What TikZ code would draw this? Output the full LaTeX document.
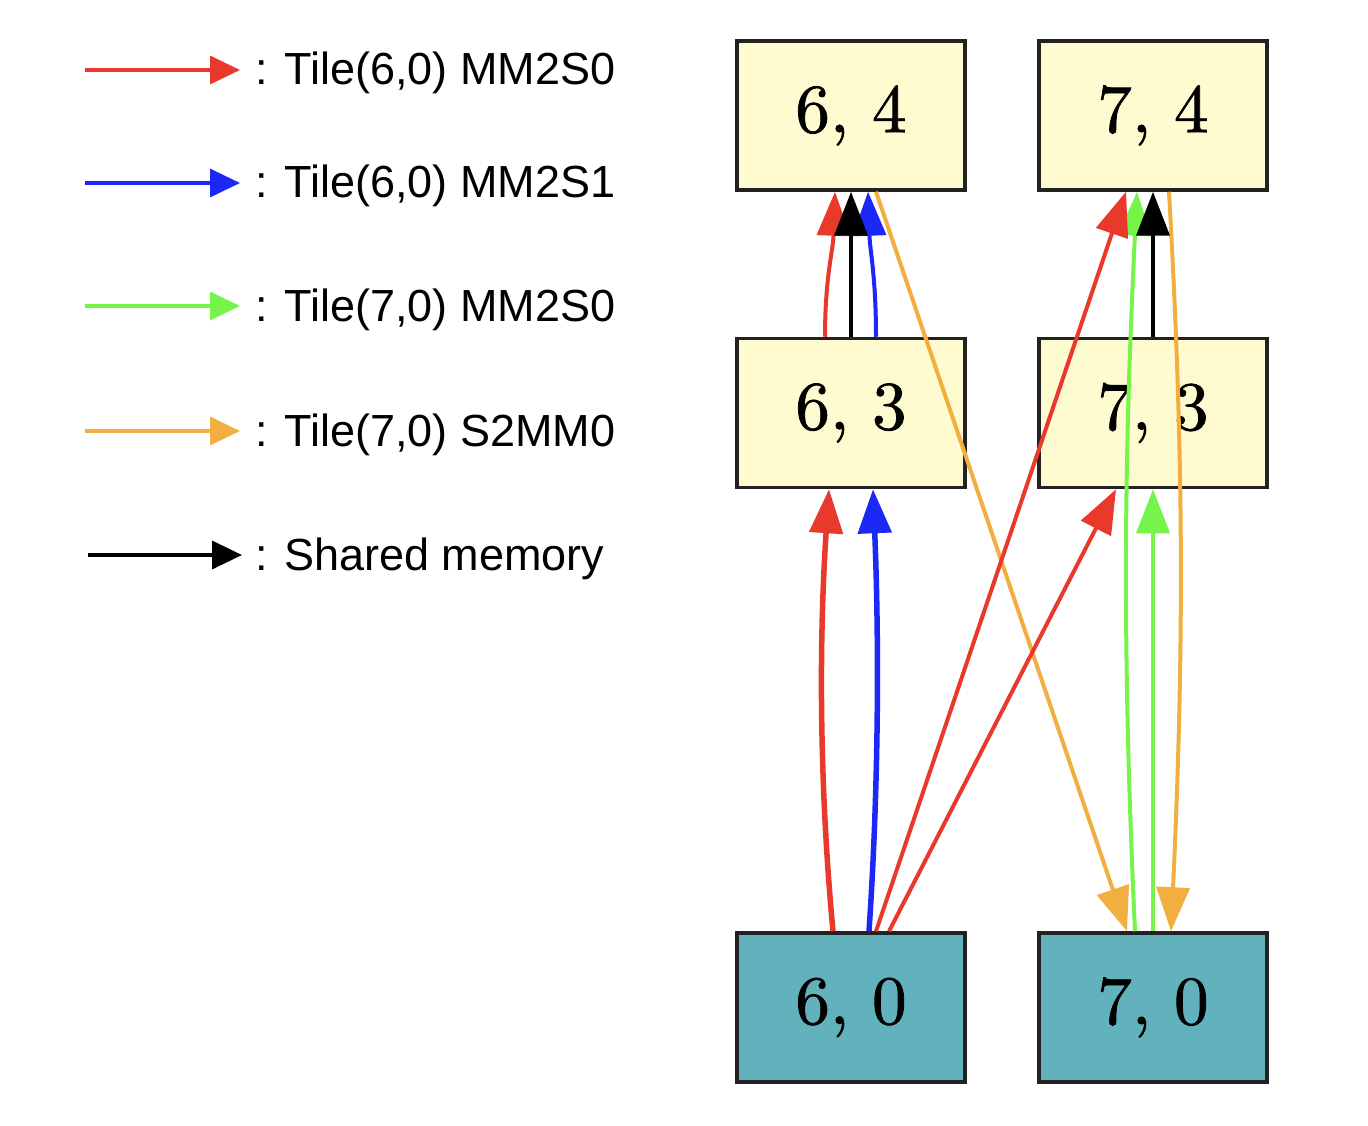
\documentclass[tikz,border=0pt]{standalone}
\usepackage{fontspec}
\newfontfamily\legfont{Liberation Sans}
\newfontfamily\tilefont{lmroman10-regular.otf}[FakeBold=1.1]
\usetikzlibrary{arrows.meta}
\definecolor{cred}{HTML}{E8392C}
\definecolor{cblue}{HTML}{1C28F5}
\definecolor{cgreen}{HTML}{76F44C}
\definecolor{corange}{HTML}{F2AE3E}
\definecolor{cyel}{HTML}{FFFBD1}
\definecolor{cteal}{HTML}{62B2BE}
\definecolor{cbord}{HTML}{222222}
\tikzset{
  tile/.style={draw=cbord, line width=3.5pt, minimum width=228pt, minimum height=149pt,
    inner sep=0pt, fill=cyel, font=\tilefont\fontsize{69}{80}\selectfont},
  shimtile/.style={tile, fill=cteal},
  edge/.style={line width=4pt, -{Triangle[length=44pt,width=33pt]}},
  thickedge/.style={line width=5.5pt, -{Triangle[length=44pt,width=33pt]}},
  legarrow/.style={line width=3.5pt, -{Triangle[length=30pt,width=28pt]}},
  legtext/.style={anchor=base west, inner sep=0pt, font=\legfont\fontsize{45}{54}\selectfont}
}
\begin{document}
\begin{tikzpicture}[x=1pt,y=-1pt]
\useasboundingbox (0,0) rectangle (1368,1126);
\fill[white] (0,0) rectangle (1368,1126);

% legend
\coordinate (l1s) at (85,70);   \coordinate (l1e) at (240,70);
\coordinate (l2s) at (85,183);  \coordinate (l2e) at (240,183);
\coordinate (l3s) at (85,306);  \coordinate (l3e) at (240,306);
\coordinate (l4s) at (85,431);  \coordinate (l4e) at (240,431);
\coordinate (l5s) at (88,555);  \coordinate (l5e) at (242,555);
\draw[legarrow, cred] (l1s) -- (l1e);
\draw[legarrow, cblue] (l2s) -- (l2e);
\draw[legarrow, cgreen] (l3s) -- (l3e);
\draw[legarrow, corange] (l4s) -- (l4e);
\draw[legarrow, black] (l5s) -- (l5e);
\node[legtext] (t1) at (255,85) {: Tile(6,0) MM2S0};
\node[legtext] (t2) at (255,198) {: Tile(6,0) MM2S1};
\node[legtext] (t3) at (255,321) {: Tile(7,0) MM2S0};
\node[legtext] (t4) at (255,446) {: Tile(7,0) S2MM0};
\node[legtext] (t5) at (255,570) {: Shared memory};

% tiles
\node[tile] (n64) at (851,115.5) {6, 4};
\node[tile] (n74) at (1153,115.5) {7, 4};
\node[tile] (n63) at (851,413) {6, 3};
\node[tile] (n73) at (1153,413) {7, 3};
\node[shimtile] (n60) at (851,1007.5) {6, 0};
\node[shimtile] (n70) at (1153,1007.5) {7, 0};

% green edges (drawn first, under others)
\draw[edge, cgreen] ([xshift=-18pt]n70.north) .. controls +(-14,-300) and +(-12,250) .. ([xshift=-16pt]n74.south);
\draw[edge, cgreen] (n70.north) -- (n73.south);

% orange
\draw[edge, corange] ([xshift=25pt]n64.south) -- ([xshift=-26pt]n70.north);
\draw[edge, corange] ([xshift=16pt]n74.south) .. controls +(14,250) and +(14,-300) .. ([xshift=18pt]n70.north);

% 6,0 -> 6,3
\draw[thickedge, cred] ([xshift=-18pt]n60.north) .. controls +(-14,-150) and +(-10,150) .. ([xshift=-22pt]n63.south);
\draw[thickedge, cblue] ([xshift=18pt]n60.north) .. controls +(10,-150) and +(6,150) .. ([xshift=22pt]n63.south);

% 6,0 -> 7,x
\draw[edge, cred] ([xshift=25pt]n60.north) -- ([xshift=-27pt]n74.south);
\draw[edge, cred] ([xshift=38pt]n60.north) -- ([xshift=-37pt]n73.south);

% 6,3 -> 6,4
\draw[edge, cred] ([xshift=-26pt]n63.north) .. controls +(0,-60) and +(-2,60) .. ([xshift=-16pt]n64.south);
\draw[edge, cblue] ([xshift=25pt]n63.north) .. controls +(0,-60) and +(2,60) .. ([xshift=17pt]n64.south);
\draw[edge, black] (n63.north) -- (n64.south);

% 7,3 -> 7,4
\draw[edge, black] (n73.north) -- (n74.south);
\end{tikzpicture}
\end{document}
